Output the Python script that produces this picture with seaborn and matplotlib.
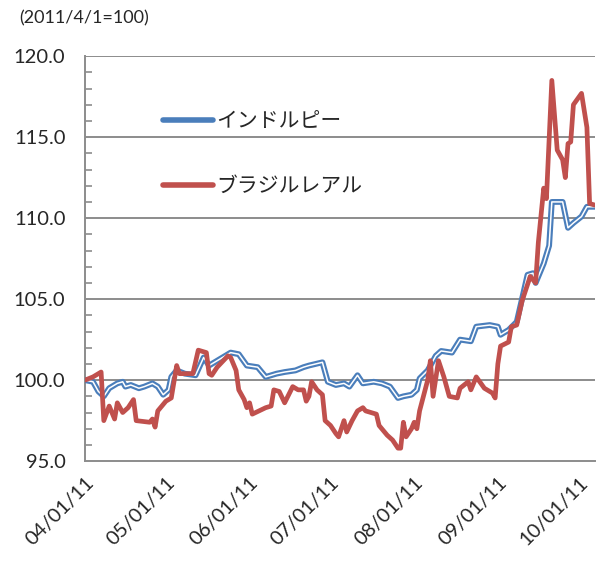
import pandas as pd
import matplotlib
matplotlib.use('Agg')
import matplotlib.pyplot as plt
import matplotlib.dates as mdates
import matplotlib.ticker as ticker
import matplotlib.patheffects as pe
from matplotlib.lines import Line2D
import seaborn as sns

# ── Data (index, 2011/4/1 = 100) ─────────────────────────────────────────────
inr_dates = [
    '2011-04-01', '2011-04-04', '2011-04-06', '2011-04-08', '2011-04-10',
    '2011-04-13', '2011-04-15', '2011-04-16', '2011-04-18', '2011-04-21',
    '2011-04-23', '2011-04-26', '2011-04-28', '2011-04-30', '2011-05-02',
    '2011-05-03', '2011-05-05', '2011-05-08', '2011-05-12', '2011-05-15',
    '2011-05-17', '2011-05-25', '2011-05-28', '2011-05-31', '2011-06-04',
    '2011-06-07', '2011-06-11', '2011-06-14', '2011-06-18', '2011-06-21',
    '2011-06-23', '2011-06-28', '2011-06-30', '2011-07-03', '2011-07-06',
    '2011-07-08', '2011-07-11', '2011-07-13', '2011-07-17', '2011-07-20',
    '2011-07-23', '2011-07-26', '2011-07-28', '2011-07-31', '2011-08-02',
    '2011-08-03', '2011-08-06', '2011-08-09', '2011-08-11', '2011-08-15',
    '2011-08-18', '2011-08-22', '2011-08-24', '2011-08-29', '2011-09-01',
    '2011-09-02', '2011-09-05', '2011-09-08', '2011-09-12', '2011-09-14',
    '2011-09-15', '2011-09-18', '2011-09-20', '2011-09-21', '2011-09-25',
    '2011-09-27', '2011-09-29', '2011-10-02', '2011-10-04', '2011-10-07',
]
inr_vals = [
    100.0, 99.9, 99.3, 99.0, 99.5,
    99.8, 99.9, 99.6, 99.7, 99.5,
    99.6, 99.8, 99.6, 99.1, 99.4,
    100.2, 100.6, 100.4, 100.3, 101.4,
    100.9, 101.7, 101.6, 100.9, 100.8,
    100.2, 100.4, 100.5, 100.6, 100.8,
    100.9, 101.1, 99.9, 99.7, 99.8,
    99.6, 100.3, 99.8, 99.9, 99.8,
    99.6, 98.9, 99.0, 99.1, 99.4,
    100.1, 100.6, 101.5, 101.8, 101.7,
    102.5, 102.4, 103.3, 103.4, 103.3,
    102.8, 103.1, 103.6, 106.5, 106.6,
    106.0, 107.2, 108.3, 111.0, 111.0,
    109.4, 109.7, 110.1, 110.7, 110.7,
]

brl_dates = [
    '2011-04-01', '2011-04-04', '2011-04-06', '2011-04-07', '2011-04-08',
    '2011-04-10', '2011-04-12', '2011-04-13', '2011-04-15', '2011-04-17',
    '2011-04-19', '2011-04-20', '2011-04-25', '2011-04-26', '2011-04-27',
    '2011-04-28', '2011-04-29', '2011-05-01', '2011-05-03', '2011-05-05',
    '2011-05-06', '2011-05-09', '2011-05-11', '2011-05-13', '2011-05-16',
    '2011-05-17', '2011-05-18', '2011-05-20', '2011-05-24', '2011-05-25',
    '2011-05-27', '2011-05-28', '2011-05-30', '2011-05-31', '2011-06-01',
    '2011-06-02', '2011-06-07', '2011-06-09', '2011-06-10', '2011-06-12',
    '2011-06-14', '2011-06-17', '2011-06-19', '2011-06-21', '2011-06-22',
    '2011-06-23', '2011-06-24', '2011-06-26', '2011-06-28', '2011-06-29',
    '2011-07-01', '2011-07-03', '2011-07-04', '2011-07-06', '2011-07-07',
    '2011-07-09', '2011-07-11', '2011-07-13', '2011-07-14', '2011-07-16',
    '2011-07-18', '2011-07-19', '2011-07-22', '2011-07-24', '2011-07-26',
    '2011-07-27', '2011-07-28', '2011-07-29', '2011-07-31', '2011-08-01',
    '2011-08-02', '2011-08-03', '2011-08-06', '2011-08-07', '2011-08-08',
    '2011-08-10', '2011-08-12', '2011-08-14', '2011-08-17', '2011-08-18',
    '2011-08-21', '2011-08-22', '2011-08-24', '2011-08-27', '2011-08-30',
    '2011-08-31', '2011-09-01', '2011-09-02', '2011-09-05', '2011-09-06',
    '2011-09-08', '2011-09-10', '2011-09-13', '2011-09-15', '2011-09-16',
    '2011-09-18', '2011-09-19', '2011-09-21', '2011-09-23', '2011-09-25',
    '2011-09-26', '2011-09-27', '2011-09-28', '2011-09-29', '2011-10-02',
    '2011-10-04', '2011-10-05', '2011-10-07',
]
brl_vals = [
    100.0, 100.2, 100.4, 100.5, 97.5,
    98.4, 97.6, 98.6, 98.0, 98.3,
    98.8, 97.5, 97.4, 97.6, 97.1,
    98.1, 98.3, 98.7, 98.9, 100.9,
    100.4, 100.4, 100.4, 101.85, 101.7,
    100.4, 100.3, 100.8, 101.5, 101.4,
    100.6, 99.4, 98.8, 98.3, 98.6,
    97.9, 98.3, 98.4, 99.4, 99.3,
    98.6, 99.6, 99.4, 99.4, 98.7,
    99.0, 99.9, 99.4, 99.1, 97.5,
    97.2, 96.7, 96.5, 97.5, 96.8,
    97.5, 98.1, 98.3, 98.1, 98.0,
    97.9, 97.2, 96.6, 96.3, 95.8,
    95.8, 97.4, 96.5, 97.0, 97.4,
    97.0, 98.1, 100.0, 101.2, 99.0,
    101.2, 100.2, 99.0, 98.9, 99.5,
    99.9, 99.4, 100.2, 99.5, 99.2,
    98.9, 101.0, 102.1, 102.35, 103.3,
    103.4, 104.9, 106.4, 106.0, 108.5,
    111.85, 111.2, 118.5, 114.2, 113.6,
    112.5, 114.6, 114.7, 117.0, 117.7,
    115.6, 110.9, 110.8,
]

series_names = ['インドルピー', 'ブラジルレアル']
month_ticks = ['2011-04-01', '2011-05-01', '2011-06-01', '2011-07-01',
               '2011-08-01', '2011-09-01', '2011-10-01']
y_ticks = [95, 100, 105, 110, 115, 120]

inr = pd.DataFrame({'date': pd.to_datetime(inr_dates), 'value': inr_vals})
brl = pd.DataFrame({'date': pd.to_datetime(brl_dates), 'value': brl_vals})

# ── Style ─────────────────────────────────────────────────────────────────────
sns.set_style('white')
plt.rcParams['font.family'] = ['Lato', 'Noto Sans CJK JP', 'DejaVu Sans']

BLUE = '#4a7ebb'
RED = '#c0504d'
GRID = '#8c8c8c'

fig = plt.figure(figsize=(5.98, 5.61), dpi=100)
ax = fig.add_axes([0.142, 0.178, 0.853, 0.722])

# India rupee: double line (blue outline, white core)
sns.lineplot(data=inr, x='date', y='value', ax=ax, color='white', lw=1.1,
             path_effects=[pe.Stroke(linewidth=4.2, foreground=BLUE), pe.Normal()],
             zorder=3)
# Brazil real: thick red line
sns.lineplot(data=brl, x='date', y='value', ax=ax, color=RED, lw=3.4,
             zorder=4, solid_joinstyle='round')

ax.set_ylim(95, 120)
ax.set_xlim(pd.Timestamp('2011-04-01'), pd.Timestamp('2011-10-07'))
ax.set_yticks(y_ticks)
ax.yaxis.set_major_formatter(ticker.FormatStrFormatter('%.1f'))
ax.yaxis.set_minor_locator(ticker.MultipleLocator(1))
ax.set_xticks(pd.to_datetime(month_ticks))
ax.xaxis.set_major_formatter(mdates.DateFormatter('%m/%d/%y'))

for y in y_ticks[1:]:
    ax.axhline(y, color=GRID, lw=1.4, zorder=1)

for side in ['top', 'right']:
    ax.spines[side].set_visible(False)
for side in ['left', 'bottom']:
    ax.spines[side].set_color(GRID)
    ax.spines[side].set_linewidth(1.4)

ax.tick_params(axis='y', which='major', direction='inout', length=10,
               width=1.4, color=GRID, labelsize=14.5, pad=9)
ax.tick_params(axis='y', which='minor', direction='in', length=5,
               width=1.2, color=GRID, left=True)
ax.tick_params(axis='x', which='major', direction='out', length=6,
               width=1.4, color=GRID, labelsize=14.5, pad=3)
plt.setp(ax.get_xticklabels(), rotation=45, ha='right', rotation_mode='anchor')

ax.set_xlabel('')
ax.set_ylabel('')

handles = [Line2D([0], [0], color=BLUE, lw=4, solid_capstyle='round'),
           Line2D([0], [0], color=RED, lw=4, solid_capstyle='round')]
ax.legend(handles, series_names, loc='upper left', bbox_to_anchor=(0.133, 0.89),
          frameon=False, fontsize=15, handlelength=2.4, handletextpad=0.15,
          labelspacing=2.15, borderpad=0)

fig.text(0.033, 0.967, '(2011/4/1=100)', fontsize=13, ha='left', va='center')

fig.savefig('out.png', dpi=100)
